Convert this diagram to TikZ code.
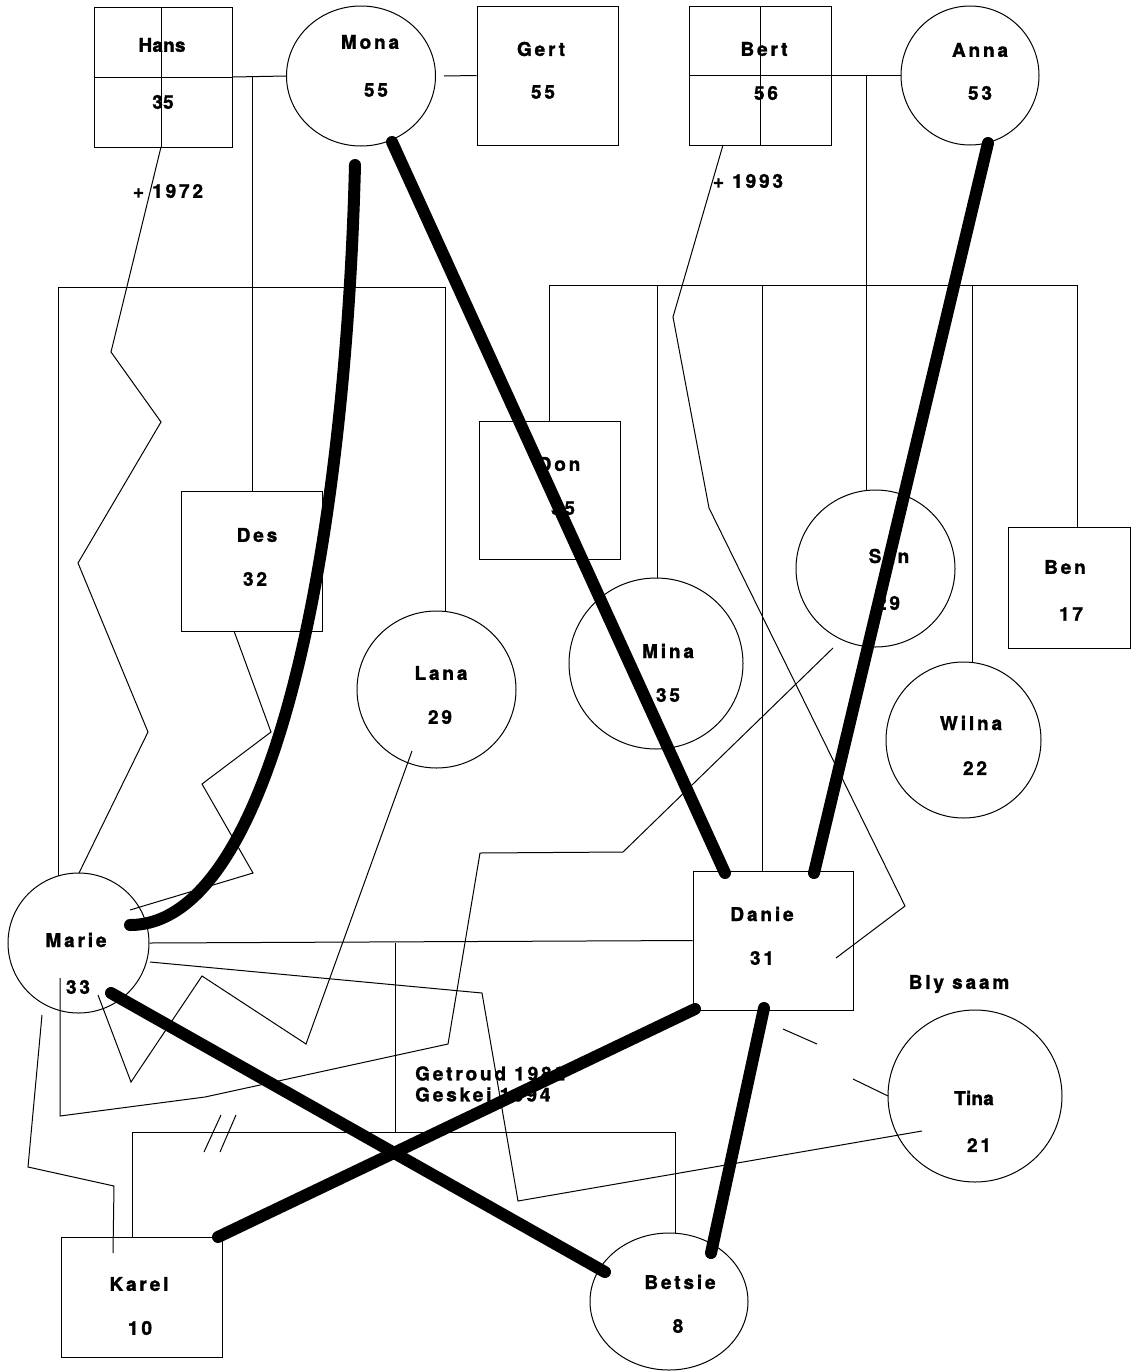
\documentclass[tikz,border=0pt]{standalone}
\usepackage{fontspec}
\usetikzlibrary{shapes.geometric}
\newfontfamily\labfont{texgyreheros-bold.otf}[LetterSpace=15,FakeBold=1.5]
\newfontfamily\labnfont{texgyreheros-bold.otf}[LetterSpace=1,FakeBold=1.5]
\begin{document}
\begin{tikzpicture}[x=1pt,y=-1pt,
  thin/.style={line width=1pt},
  heavy/.style={line width=12pt,line cap=round},
  sq/.style={draw,rectangle,inner sep=0pt,line width=1pt},
  ci/.style={draw,ellipse,inner sep=0pt,line width=1pt},
  lab/.style={font=\labfont\fontsize{19}{21}\selectfont,inner sep=0pt},
  labn/.style={font=\labnfont\fontsize{19}{21}\selectfont,inner sep=0pt}]
\useasboundingbox (0,0) rectangle (1131,1371);

% ---------- people ----------
\node[sq,minimum width=138pt,minimum height=140pt] (hans) at (163,77) {};
\node[ci,minimum width=149pt,minimum height=140pt] (mona) at (361,76) {};
\node[sq,minimum width=141pt,minimum height=139pt] (gert) at (547.5,75.5) {};
\node[sq,minimum width=142pt,minimum height=139pt] (bert) at (760,75.5) {};
\node[ci,minimum width=138pt,minimum height=139pt] (anna) at (970,75.5) {};
\node[sq,minimum width=141pt,minimum height=140pt] (des) at (251.5,561) {};
\node[ci,minimum width=159pt,minimum height=157pt] (lana) at (436.5,689.5) {};
\node[sq,minimum width=141pt,minimum height=138pt] (don) at (549.5,490) {};
\node[ci,minimum width=174pt,minimum height=171pt] (mina) at (656,663.5) {};
\node[ci,minimum width=159pt,minimum height=157pt] (sam) at (875.5,568.5) {};
\node[sq,minimum width=122pt,minimum height=121pt] (ben) at (1069,587.5) {};
\node[ci,minimum width=155pt,minimum height=156pt] (wilna) at (963.5,740) {};
\node[ci,minimum width=141pt,minimum height=140pt] (marie) at (78.5,943) {};
\node[sq,minimum width=160pt,minimum height=139pt] (danie) at (773,940.5) {};
\node[ci,minimum width=174pt,minimum height=172pt] (tina) at (975,1096) {};
\node[sq,minimum width=161pt,minimum height=120pt] (karel) at (141.5,1297) {};
\node[ci,minimum width=158pt,minimum height=137pt] (betsie) at (669,1301.5) {};

% crosses in deceased
\draw[thin] (161,7) -- (161,147) (hans.west) -- (hans.east);
\draw[thin] (760,6) -- (760,145) (bert.west) -- (bert.east);

% ---------- labels ----------
\node[labn] (t-hans) at (162,45) {Hans};
\node[labn] (a-hans) at (163,102) {35};
\node[lab] (t-mona) at (370,42) {Mona};
\node[lab] (a-mona) at (376,90) {55};
\node[lab] (t-gert) at (541,49) {Gert};
\node[lab] (a-gert) at (543,92) {55};
\node[lab] (t-bert) at (764,49) {Bert};
\node[lab] (a-bert) at (766,93) {56};
\node[lab] (t-anna) at (980,50) {Anna};
\node[lab] (a-anna) at (980,93) {53};
\node[lab] (d-hans) at (168,191) {+ 1972};
\node[lab] (d-bert) at (748,181) {+ 1993};
\node[lab] (t-des) at (257,535) {Des};
\node[lab] (a-des) at (255,579) {32};
\node[lab] (t-lana) at (441,673) {Lana};
\node[lab] (a-lana) at (440,717) {29};
\node[lab] (t-don) at (559,464) {Don};
\node[lab] (a-don) at (563,508) {35};
\node[lab] (t-mina) at (668,651) {M\kern3pt ina};
\node[lab] (a-mina) at (668,695) {35};
\node[lab] (t-sam) at (889,556) {San};
\node[lab] (a-sam) at (888,603) {29};
\node[lab] (t-ben) at (1065,567) {Ben};
\node[lab] (a-ben) at (1071,614) {17};
\node[lab] (t-wilna) at (971,723) {W\kern3pt ilna};
\node[lab] (a-wilna) at (975,768) {22};
\node[lab] (t-marie) at (76,940) {Marie};
\node[lab] (a-marie) at (78,987) {33};
\node[lab] (t-danie) at (762,914) {D\kern3pt anie};
\node[lab] (a-danie) at (762,958) {31};
\node[lab] (blysaam) at (959,984) {Bly saam};
\node[labn] (t-tina) at (974,1098) {Tina};
\node[lab] (a-tina) at (979,1145) {21};
\node[lab] (t-karel) at (139,1284) {Karel};
\node[lab] (a-karel) at (140,1328) {1\kern3pt 0};
\node[lab] (t-betsie) at (680,1282) {Betsie};
\node[lab] (a-betsie) at (678,1326) {8};
\node[lab,anchor=west,align=left] (huwelik) at (415,1084) {Getroud 1982\\Geskei 1994};

% ---------- coordinates ----------
\coordinate (hm) at (252,77);
\coordinate (mg) at (444,76);
\coordinate (ba) at (866,76);
\coordinate (bar1l) at (58,287);
\coordinate (bar1r) at (445,287);
\coordinate (bar2l) at (549,285);
\coordinate (bar2r) at (1077,285);
\coordinate (md) at (395,943);
\coordinate (kbl) at (132,1132);
\coordinate (kbr) at (675,1132);

% ---------- family lines ----------
\draw[thin] (hans.east) -- (mona.west);
\draw[thin] (hm) -- (hm |- des.north);
\draw[thin] (mg) -- (gert.west);
\draw[thin] (bert.east) -- (anna.west);
\draw[thin] (ba) -- (866,490);
\draw[thin] (bar1l) -- (bar1r);
\draw[thin] (bar1l) -- (58,876);
\draw[thin] (bar1r) -- (445,611);
\draw[thin] (bar2l) -- (bar2r);
\draw[thin] (bar2l) -- (549,421);
\draw[thin] (657,285) -- (657,578);
\draw[thin] (762,285) -- (762,871);
\draw[thin] (972,285) -- (972,662);
\draw[thin] (bar2r) -- (1077,527);
\draw[thin] (marie.east) -- (danie.west);
\draw[thin] (md) -- (395,1132);
\draw[thin] (kbl) -- (kbr);
\draw[thin] (kbl) -- (132,1237);
\draw[thin] (kbr) -- (675,1233);
\draw[thin] (204,1152) -- (221,1115) (220,1152) -- (236,1115);

% ---------- relationship lines ----------
\draw[thin] (161,147) -- (111,352) -- (161,422) -- (78,563) -- (148,732) -- (79,873);
\draw[thin] (723,145) -- (673,317) -- (709,508) -- (905,906) -- (836,958);
\draw[thin] (234,631) -- (271,732) -- (202,784) -- (253,873) -- (130,910);
\draw[thin] (150,962) -- (482,993) -- (518,1201) -- (922,1131);
\draw[thin] (98,995) -- (131,1082) -- (202,976) -- (306,1044) -- (412,751);
\draw[thin] (60,978) -- (60,1116) -- (205,1097) -- (448,1044) -- (480,853) -- (623,852) -- (833,648);
\draw[thin] (42,1015) -- (28,1167) -- (114,1186) -- (113,1253);
\draw[thin] (783,1029) -- (817,1044) (853,1079) -- (888,1096);

% ---------- heavy lines ----------
\draw[heavy] (355,165) .. controls (345,560) and (270,925) .. (130,925);
\draw[heavy] (392,142) -- (725,873);
\draw[heavy] (988,143) -- (814,873);
\draw[heavy] (111,993) -- (605,1272);
\draw[heavy] (218,1237) -- (695,1009);
\draw[heavy] (764,1008) -- (711,1253);
\end{tikzpicture}
\end{document}
